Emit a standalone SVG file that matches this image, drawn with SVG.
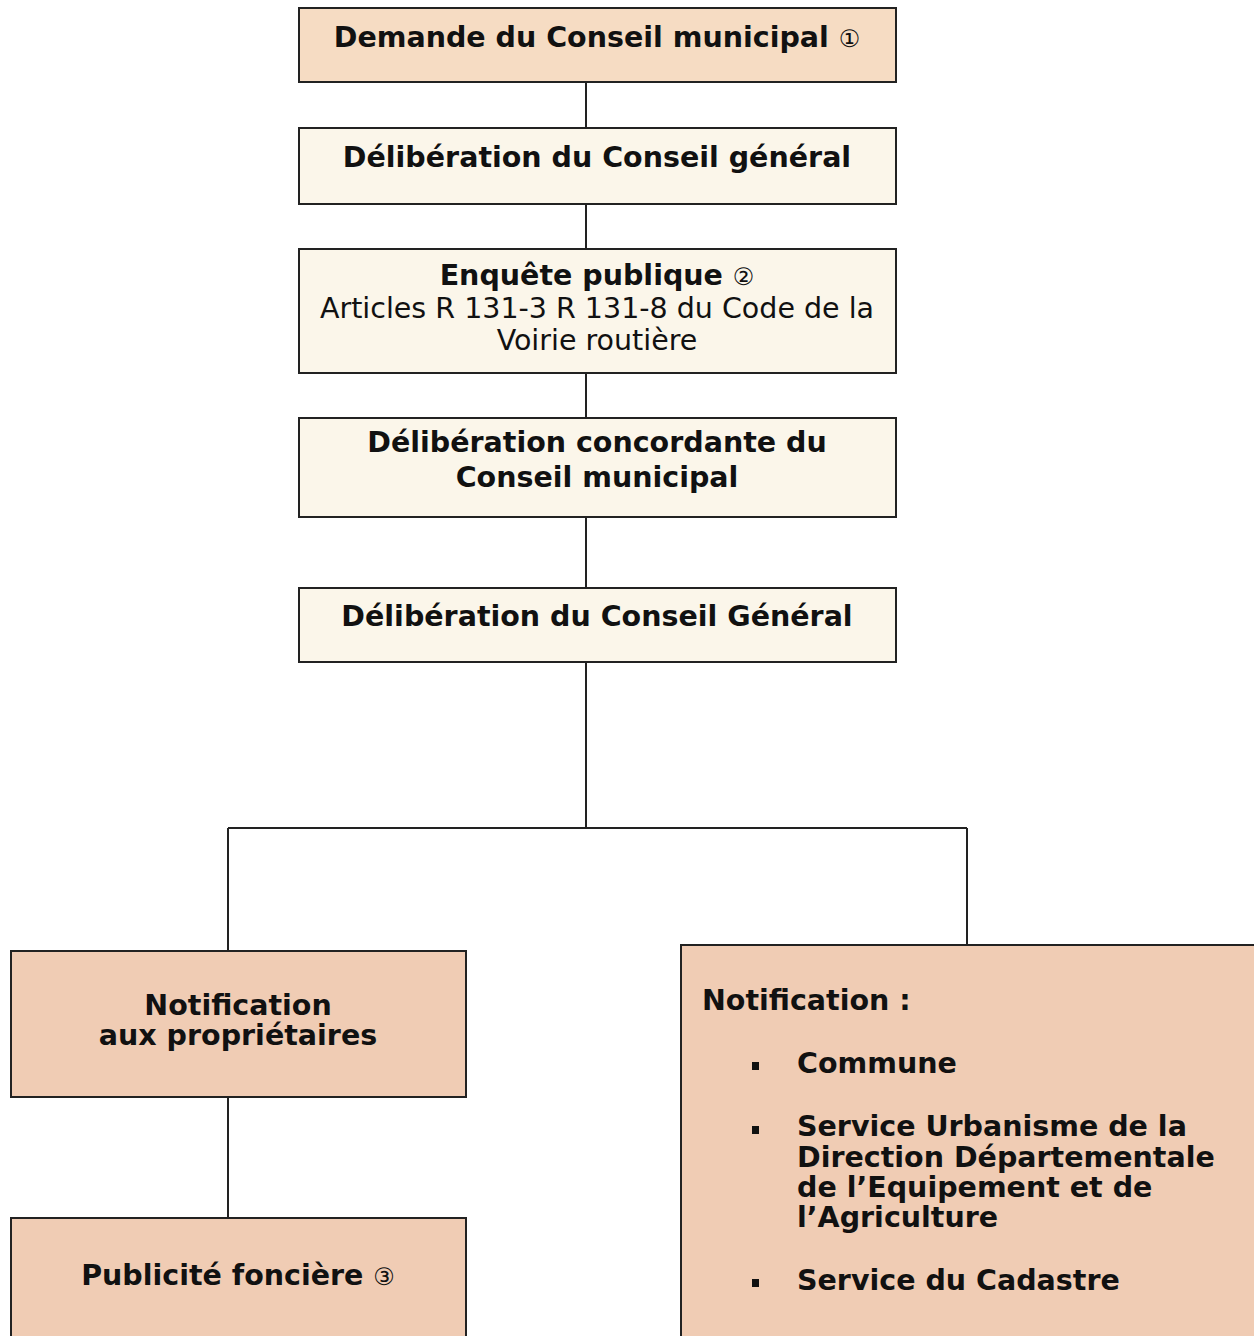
<svg xmlns="http://www.w3.org/2000/svg" width="1254" height="1336" viewBox="0 0 1254 1336">
<style>
.box{stroke:#222;stroke-width:2}
.peach{fill:#f6dcc3}
.cream{fill:#fbf6ea}
.rose{fill:#f0ccb4}
.b{font-family:"DejaVu Sans","Liberation Sans",sans-serif;font-weight:bold;fill:#111;font-size:28.5px}
.r{font-family:"DejaVu Sans","Liberation Sans",sans-serif;fill:#111;font-size:28.5px}
.n{font-weight:normal;font-size:24px}
.c{text-anchor:middle}
.conn{stroke:#222;stroke-width:2;fill:none}
</style>
<rect width="1254" height="1336" fill="#fff"/>
<g id="connectors">
<path class="conn" d="M586 82V128M586 204V249M586 373V418M586 517V588M586 662V828M228 828H967M228 828V951M967 828V945M228 1097V1218"/>
</g>
<g id="n1"><rect class="box peach" x="299" y="8" width="597" height="74"/>
<text class="b c" x="597" y="47">Demande du Conseil municipal <tspan class="n">①</tspan></text></g>
<g id="n2"><rect class="box cream" x="299" y="128" width="597" height="76"/>
<text class="b c" x="597" y="167">Délibération du Conseil général</text></g>
<g id="n3"><rect class="box cream" x="299" y="249" width="597" height="124"/>
<text class="b c" x="597" y="285">Enquête publique <tspan class="n">②</tspan></text>
<text class="r c" x="597" y="318">Articles R 131-3 R 131-8 du Code de la</text>
<text class="r c" x="597" y="350">Voirie routière</text></g>
<g id="n4"><rect class="box cream" x="299" y="418" width="597" height="99"/>
<text class="b c" x="597" y="452">Délibération concordante du</text>
<text class="b c" x="597" y="487">Conseil municipal</text></g>
<g id="n5"><rect class="box cream" x="299" y="588" width="597" height="74"/>
<text class="b c" x="597" y="626">Délibération du Conseil Général</text></g>
<g id="n6"><rect class="box rose" x="11" y="951" width="455" height="146"/>
<text class="b c" x="238" y="1015">Notification</text>
<text class="b c" x="238" y="1045">aux propriétaires</text></g>
<g id="n7"><rect class="box rose" x="681" y="945" width="580" height="400"/>
<text class="b" x="702" y="1010">Notification :</text>
<rect x="752" y="1062" width="7" height="8" fill="#111"/>
<text class="b" x="797" y="1073">Commune</text>
<rect x="752" y="1126" width="7" height="8" fill="#111"/>
<text class="b" x="797" y="1136">Service Urbanisme de la</text>
<text class="b" x="797" y="1167">Direction Départementale</text>
<text class="b" x="797" y="1197">de l’Equipement et de</text>
<text class="b" x="797" y="1227">l’Agriculture</text>
<rect x="752" y="1279" width="7" height="8" fill="#111"/>
<text class="b" x="797" y="1290">Service du Cadastre</text></g>
<g id="n8"><rect class="box rose" x="11" y="1218" width="455" height="130"/>
<text class="b c" x="238" y="1285">Publicité foncière <tspan class="n">③</tspan></text></g>
</svg>
